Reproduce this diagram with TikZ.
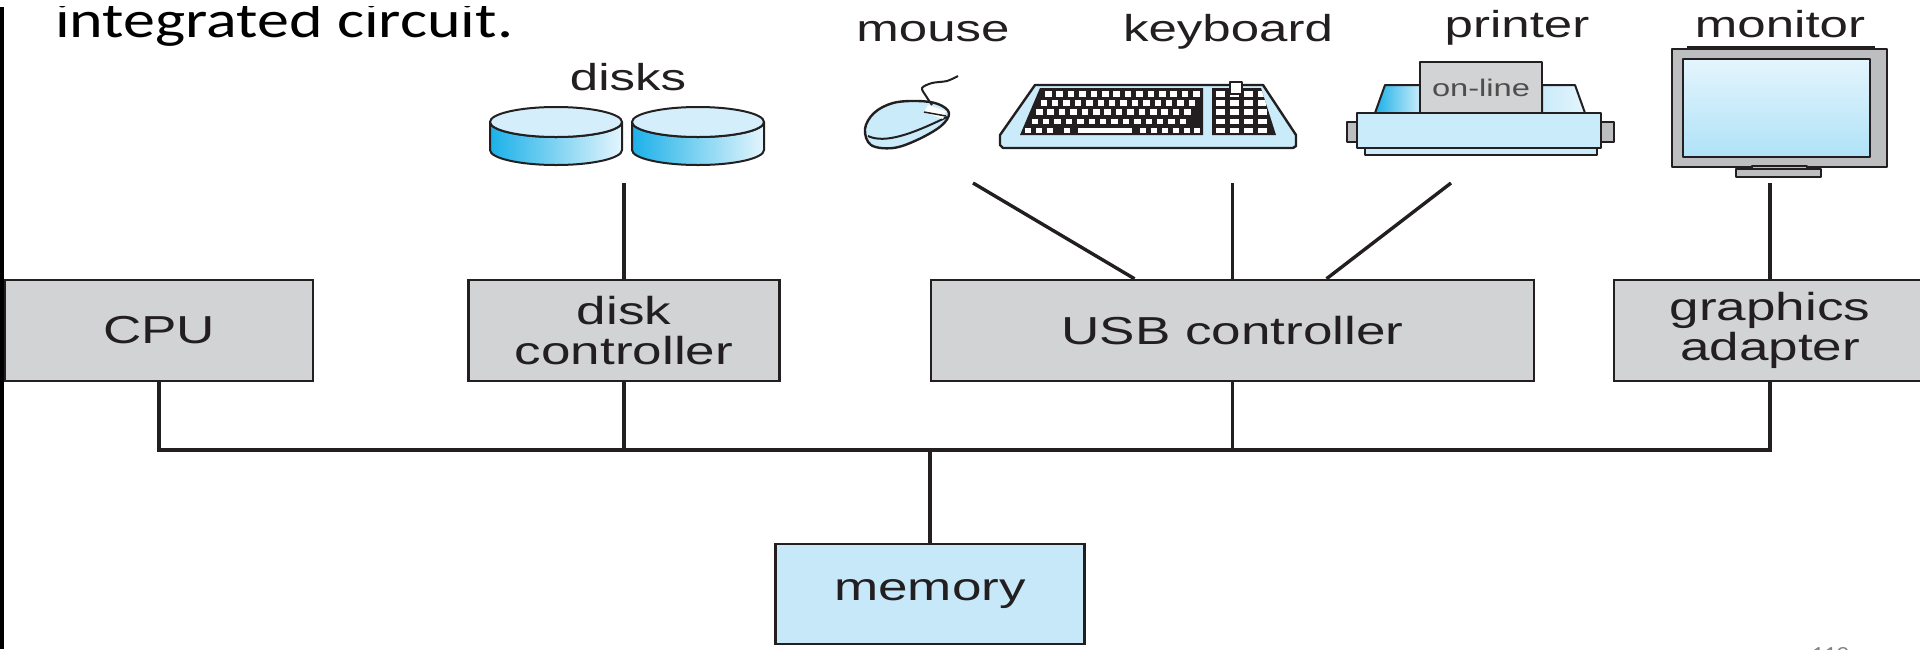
\documentclass[tikz,border=0pt]{standalone}
\usepackage{fontspec}
\setmainfont{Liberation Sans}[FakeStretch=1.36]
\newfontfamily\slidefont{Carlito}[FakeStretch=1.23]
\usepackage{tikz}
\definecolor{ink}{HTML}{231F20}
\definecolor{boxgray}{HTML}{D1D3D4}
\definecolor{framegray}{HTML}{BCBEC0}
\definecolor{membg}{HTML}{C6E8F8}
\definecolor{devblue}{HTML}{C9EBFA}
\definecolor{paleblue}{HTML}{E4F5FD}
\definecolor{cyandark}{HTML}{1CB1E8}
\definecolor{pagegray}{HTML}{808080}
\newcommand{\unitfont}{\fontsize{39}{40}\selectfont}
\newcommand{\tagfont}{\fontsize{37.5}{40}\selectfont}

\begin{document}
\begin{tikzpicture}[x=1pt, y=-1pt,
    wire/.style={ink, line width=3.4pt},
    icon/.style={draw=ink, line width=2pt, line join=round},
    unit/.style={draw=ink, fill=boxgray, line width=2.5pt, minimum height=101pt,
      inner sep=0pt, align=center, text=ink, font=\unitfont},
    tag/.style={anchor=base, text=ink, font=\tagfont, inner sep=0pt}]
  \useasboundingbox (0,0) rectangle (1920,649);

  % slide margin rule and heading tail
  \draw[black, line width=4pt] (2,7) -- (2,649);
  \begin{scope}
    \clip (0,6) rectangle (1920,649);
    \node[anchor=base west, inner sep=0pt, font=\slidefont\fontsize{52}{62}\selectfont] (heading) at (55,37) {integrated circuit.};
  \end{scope}
  \node[anchor=base, inner sep=0pt, text=pagegray, font=\slidefont\fontsize{20}{24}\selectfont] (pageno) at (1830,660) {119};

  % controllers on the bus
  \node[unit, minimum width=308pt] (cpu) at (159,330.5) {CPU};
  \node[unit, minimum width=311pt] (diskctl) at (624,330.5) {disk\\controller};
  \node[unit, minimum width=603pt] (usb) at (1232.5,330.5) {USB controller};
  \node[unit, minimum width=312pt] (gfx) at (1770,330.5) {graphics\\adapter};
  \node[unit, fill=membg, minimum width=309pt, minimum height=100pt] (mem) at (930,594) {memory};

  \coordinate (bus) at (0,450);
  \draw[wire] (cpu.south) |- (bus -| gfx.south) -- (gfx.south);
  \draw[wire] (diskctl.south) -- (diskctl.south |- bus);
  \draw[wire] (usb.south) -- (usb.south |- bus);
  \draw[wire] (mem.north) -- (mem.north |- bus);

  % device labels
  \node[tag] (disklabel) at (628,90) {disks};
  \node[tag] (mouselabel) at (933,41) {mouse};
  \node[tag] (keylabel) at (1228,41) {keyboard};
  \node[tag] (printlabel) at (1517,37) {printer};
  \node[tag] (monlabel) at (1780,37) {monitor};

  % disks
  \foreach \cx in {556,698} {
    \draw[icon, left color=cyandark, right color=paleblue] ({\cx-66},122) -- ({\cx-66},150)
      arc[start angle=180, end angle=0, x radius=66, y radius=15] -- ({\cx+66},122)
      arc[start angle=0, end angle=180, x radius=66, y radius=15] -- cycle;
    \draw[icon, fill=devblue!80!white] (\cx,122) ellipse[x radius=66, y radius=15];
  }

  % mouse
  \draw[icon, line width=2.4pt, fill=devblue] plot[smooth cycle, tension=0.6] coordinates
    {(865,129) (874,113) (893,103) (918,101) (938,104) (949,113) (941,126) (917,140) (893,148) (871,145)};
  \draw[icon] (868,136) .. controls (885,144) and (912,134) .. (947,117);
  \fill[white] (928,105) -- (946,111) -- (943,119) -- (924,112) -- cycle;
  \draw[icon, line width=1.5pt] (924,112) -- (946,116);
  \draw[icon, line width=2pt] plot[smooth] coordinates {(932,105) (926,96) (922,88) (932,83) (947,81) (958,76)};

  % keyboard
  \draw[icon, line width=2.4pt, fill=devblue] (1035,85) -- (1263,85) -- (1296,135) -- (1296,146) -- (1293,148)
    -- (1003,148) -- (1000,145) -- (1000,135) -- cycle;
  \fill[ink] (1040,88) -- (1203,88) -- (1203,135) -- (1020,135) -- cycle;
  \fill[ink] (1212,88) -- (1261,88) -- (1276,135) -- (1212,135) -- cycle;
  \foreach \r in {0,...,3}
    \foreach \c in {0,...,13}
      \fill[white] ({1045-4.5*\r+11.4*\c},{91+9.2*\r}) rectangle ++(6.5,5.5);
  \foreach \kx in {1025,1036,1047,1064,1140,1151,1162,1173,1184,1194}
    \fill[white] (\kx,127.5) rectangle ++(6,5);
  \fill[white] (1078,127.5) rectangle (1132,132.5);
  \begin{scope}
    \clip (1212,88) -- (1261,88) -- (1276,135) -- (1212,135) -- cycle;
    \foreach \r in {0,...,4}
      \foreach \c in {0,...,3}
        \fill[white] ({1216+14*\c},{91+9.2*\r}) rectangle ++(8.5,5.5);
  \end{scope}
  \draw[icon, fill=white, line width=1.5pt] (1230,82) rectangle (1242,94);

  % printer
  \draw[icon, left color=cyandark, right color=devblue] (1375,113) -- (1385,85) -- (1420,85) -- (1420,113) -- cycle;
  \draw[icon, left color=devblue, right color=paleblue] (1542,85) -- (1575,85) -- (1585,113) -- (1542,113) -- cycle;
  \draw[icon, fill=boxgray] (1420,62) rectangle (1542,113);
  \node[inner sep=0pt, text=ink!80, font=\fontsize{24}{26}\selectfont] (online) at (1481,88) {on-line};
  \draw[icon, fill=devblue] (1365,148) rectangle (1597,155);
  \draw[icon, fill=devblue] (1357,113) rectangle (1601,148);
  \draw[icon, fill=framegray] (1347,122) rectangle (1357,142);
  \draw[icon, fill=framegray] (1601,122) rectangle (1614,142);

  % monitor
  \draw[icon] (1687,47) -- (1875,47);
  \draw[icon, line width=2.4pt, fill=framegray] (1672,49) rectangle (1887,167);
  \draw[icon, line width=2.5pt, top color=paleblue, bottom color=devblue!85!cyandark] (1683,59) rectangle (1870,157);
  \draw[icon, line width=1.5pt, fill=framegray] (1752,166) rectangle (1807,169);
  \draw[icon, line width=1.5pt, fill=framegray] (1736,169) rectangle (1821,177);

  % device links
  \coordinate (diskfoot) at (624,183);
  \coordinate (mousefoot) at (973,183);
  \coordinate (keyfoot) at (1232.5,183);
  \coordinate (printfoot) at (1451,183);
  \coordinate (monfoot) at (1770,183);
  \draw[wire] (diskfoot) -- (diskctl.north);
  \draw[wire] (mousefoot) -- ([xshift=-98pt]usb.north);
  \draw[wire] (keyfoot) -- (usb.north);
  \draw[wire] (printfoot) -- ([xshift=94pt]usb.north);
  \draw[wire] (monfoot) -- (gfx.north);
\end{tikzpicture}
\end{document}
